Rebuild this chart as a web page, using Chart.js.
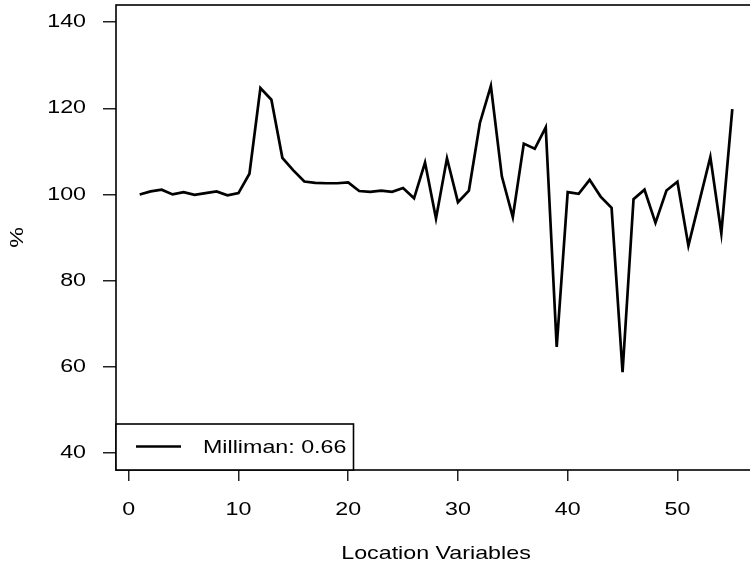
<!DOCTYPE html>
<html>
<head>
<meta charset="utf-8">
<script src="https://cdn.jsdelivr.net/npm/chart.js@4/dist/chart.umd.min.js"></script>
<style>
  html, body { margin: 0; padding: 0; background: #fff; overflow: hidden; }
  #wrap { width: 750px; height: 565px; overflow: hidden; position: relative; }
</style>
</head>
<body>
<div id="wrap"><canvas id="plot" width="790" height="565"></canvas></div>
<script>
// data
const locations = [1, 2, 3, 4, 5, 6, 7, 8, 9, 10, 11, 12, 13, 14, 15, 16, 17, 18, 19, 20,
                   21, 22, 23, 24, 25, 26, 27, 28, 29, 30, 31, 32, 33, 34, 35, 36, 37, 38, 39, 40,
                   41, 42, 43, 44, 45, 46, 47, 48, 49, 50, 51, 52, 53, 54, 55];
const milliman = [100.0, 100.7, 101.1, 100.0, 100.55, 99.9, 100.3, 100.7, 99.8, 100.3,
                  104.8, 124.7, 122.0, 108.5, 105.6, 103.0, 102.7, 102.6, 102.6, 102.8,
                  100.8, 100.6, 100.9, 100.6, 101.5, 99.1, 107.4, 94.4, 108.4, 98.2,
                  100.9, 116.6, 125.2, 104.2, 94.75, 111.8, 110.6, 115.6, 64.6, 100.55,
                  100.15, 103.4, 99.5, 96.9, 58.7, 98.9, 101.1, 93.4, 100.9, 102.95,
                  88.1, 98.4, 108.7, 91.0, 119.8];
const seriesLabel = "Milliman: 0.66";
const xTicks = [0, 10, 20, 30, 40, 50];
const yTicks = [40, 60, 80, 100, 120, 140];

const FONT = "'Liberation Sans', Arial, sans-serif";
Chart.defaults.font.family = FONT;
Chart.defaults.font.size = 18.6;
Chart.defaults.color = "#000";

// text in the original is stretched sideways, do the same round each anchor point
const WIDE = 1.25;
const wideText = {
    id: "wideText",
    beforeDraw(chart) {
        const ctx = chart.ctx;
        if (ctx._wide) return;
        const orig = ctx.fillText;
        ctx.fillText = function (t, x, y, mw) {
            this.save();
            this.translate(x, y);
            this.scale(WIDE, 1);
            if (mw === undefined) orig.call(this, t, 0, 0);
            else orig.call(this, t, 0, 0, mw / WIDE);
            this.restore();
        };
        ctx._wide = true;
    }
};

// box round the plot region
const frame = {
    id: "frame",
    afterDatasetsDraw(chart) {
        const a = chart.chartArea, ctx = chart.ctx;
        ctx.save();
        ctx.strokeStyle = "#000";
        ctx.lineWidth = 1.6;
        ctx.strokeRect(a.left, a.top, a.right - a.left, a.bottom - a.top);
        ctx.restore();
    }
};

// legend box at bottom-left of the plot
const boxLegend = {
    id: "boxLegend",
    afterDraw(chart) {
        const a = chart.chartArea, ctx = chart.ctx;
        const ds = chart.data.datasets[0];
        const w = 237.5, h = 46;
        const top = a.bottom - h;
        ctx.save();
        ctx.fillStyle = "#fff";
        ctx.fillRect(a.left, top, w, h);
        ctx.strokeStyle = "#000";
        ctx.lineWidth = 1.6;
        ctx.strokeRect(a.left, top, w, h);
        ctx.beginPath();
        ctx.moveTo(a.left + 20, top + 22.5);
        ctx.lineTo(a.left + 65, top + 22.5);
        ctx.lineWidth = ds.borderWidth;
        ctx.strokeStyle = ds.borderColor;
        ctx.stroke();
        ctx.fillStyle = "#000";
        ctx.font = "18.6px " + FONT;
        ctx.textBaseline = "middle";
        ctx.textAlign = "left";
        ctx.fillText(ds.label, a.left + 87, top + 23.5);
        ctx.restore();
    }
};

new Chart(document.getElementById("plot"), {
    type: "line",
    data: {
        datasets: [{
            label: seriesLabel,
            data: locations.map((x, i) => ({ x: x, y: milliman[i] })),
            borderColor: "#000",
            borderWidth: 2.7,
            pointRadius: 0,
            tension: 0,
            fill: false
        }]
    },
    options: {
        responsive: false,
        animation: false,
        layout: { padding: { left: 0, top: 5, right: 34, bottom: 0 } },
        plugins: {
            legend: { display: false },
            tooltip: { enabled: false }
        },
        scales: {
            x: {
                type: "linear",
                min: -1.16,
                max: 57.16,
                afterBuildTicks: (s) => { s.ticks = xTicks.map(v => ({ value: v })); },
                afterFit: (s) => { s.height = 95; s.paddingLeft = 0; s.paddingRight = 0; },
                grid: { drawOnChartArea: false, drawTicks: true, tickLength: 11, color: "#222", lineWidth: 1.5 },
                border: { display: false },
                ticks: { padding: 18, maxRotation: 0, autoSkip: false, color: "#000" },
                title: { display: true, text: "Location Variables", padding: { top: 0, bottom: 0 } }
            },
            y: {
                type: "linear",
                min: 36,
                max: 144,
                afterBuildTicks: (s) => { s.ticks = yTicks.map(v => ({ value: v })); },
                afterFit: (s) => { s.width = 116; s.paddingTop = 0; s.paddingBottom = 0; },
                grid: { drawOnChartArea: false, drawTicks: true, tickLength: 13, color: "#222", lineWidth: 1.5 },
                border: { display: false },
                ticks: { padding: 17, autoSkip: false, color: "#000" },
                title: { display: true, text: "%", padding: { top: 7, bottom: 0 } }
            }
        }
    },
    plugins: [wideText, frame, boxLegend]
});
</script>
</body>
</html>
